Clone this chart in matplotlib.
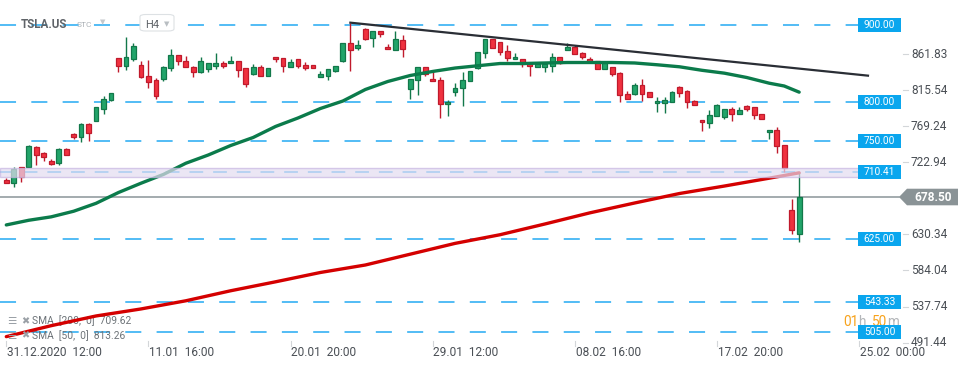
import matplotlib
matplotlib.use("Agg")
import matplotlib.pyplot as plt
from matplotlib.patches import Rectangle, Polygon, FancyBboxPatch
from matplotlib.transforms import blended_transform_factory

plt.rcParams['font.family'] = ['Roboto', 'DejaVu Sans']

W, H = 970, 368

# TSLA.US H4 candles
opens = [700.4, 696.9, 716.7, 717.5, 742.4, 734.7, 724.4, 722.6, 740.6, 759.1,
         756.0, 772.0, 776.6, 792.0, 803.2, 856.8, 847.3, 855.9, 848.2, 834.1,
         828.5, 830.2, 844.7, 860.7, 853.7, 846.0, 838.8, 843.5, 847.3, 850.4,
         850.4, 853.0, 843.9, 837.0, 845.3, 834.5, 858.9, 856.8, 846.0, 855.5,
         848.2, 848.2, 833.2, 834.5, 840.9, 853.7, 876.1, 869.7, 894.5, 882.5,
         891.9, 871.3, 867.9, 880.0, 817.7, 828.5, 845.3, 829.8, 828.5, 797.7,
         813.1, 818.2, 827.2, 844.7, 863.2, 881.3, 877.4, 866.2, 855.5, 855.5,
         850.4, 845.3, 845.3, 846.9, 858.9, 867.1, 871.0, 863.2, 855.5, 853.7,
         842.7, 845.3, 837.5, 810.5, 811.3, 822.1, 813.1, 799.0, 799.7, 801.0,
         819.5, 814.8, 801.9, 777.5, 774.0, 782.3, 781.0, 791.3, 784.8, 795.1,
         793.8, 784.8, 761.7, 764.7, 745.0, 661.4, 630.6]
highs = [703.0, 717.5, 717.0, 745.0, 744.1, 736.4, 727.0, 741.5, 741.0, 761.2,
         773.3, 773.3, 794.6, 808.4, 812.6, 857.0, 883.8, 876.1, 853.0, 854.6,
         831.5, 846.9, 868.4, 861.0, 859.8, 846.3, 858.1, 850.6, 863.2, 853.0,
         859.8, 853.2, 844.1, 849.5, 848.6, 844.1, 859.1, 857.0, 855.5, 855.7,
         852.4, 848.4, 840.5, 843.3, 846.7, 876.3, 902.6, 880.0, 895.4, 892.1,
         892.1, 874.8, 891.9, 886.8, 830.4, 845.5, 846.0, 838.8, 832.8, 802.8,
         824.7, 838.8, 840.7, 864.7, 881.5, 881.5, 877.6, 873.9, 863.2, 855.7,
         850.6, 849.7, 852.1, 864.0, 859.1, 876.9, 874.3, 864.9, 858.9, 853.9,
         850.6, 845.5, 838.8, 815.2, 824.7, 830.2, 813.3, 806.7, 806.7, 814.8,
         821.2, 816.1, 803.2, 777.7, 790.4, 798.1, 791.5, 793.8, 793.8, 796.4,
         794.0, 785.0, 764.9, 768.5, 745.2, 675.6, 711.0]
lows = [696.5, 691.8, 697.8, 717.0, 719.3, 725.2, 719.3, 720.0, 732.5, 752.7,
        749.6, 750.9, 775.8, 785.2, 801.5, 839.6, 841.8, 853.7, 832.0, 818.3,
        804.9, 828.0, 840.9, 848.6, 845.0, 833.2, 838.5, 839.6, 843.5, 844.3,
        850.2, 833.2, 820.3, 835.4, 834.3, 834.3, 852.4, 838.8, 845.8, 844.7,
        841.8, 844.5, 833.0, 829.3, 838.8, 852.4, 840.9, 867.1, 880.3, 871.3,
        884.6, 868.2, 867.1, 858.9, 804.1, 809.6, 834.5, 827.0, 780.5, 783.0,
        808.7, 795.9, 827.0, 843.1, 856.8, 870.2, 861.1, 853.7, 855.3, 845.3,
        834.5, 845.1, 839.6, 839.6, 849.1, 866.9, 861.8, 855.5, 851.2, 842.5,
        842.5, 834.5, 801.0, 804.7, 809.6, 802.3, 806.5, 788.2, 786.1, 800.8,
        807.5, 793.3, 796.2, 763.8, 767.6, 782.1, 779.2, 776.6, 784.6, 789.5,
        779.2, 778.2, 752.7, 735.5, 711.1, 630.6, 621.1]
closes = [696.9, 714.9, 703.9, 744.1, 732.9, 729.6, 720.9, 740.6, 732.9, 756.0,
          772.0, 760.4, 793.8, 804.1, 811.8, 847.3, 858.1, 873.0, 832.4, 826.8,
          808.7, 846.0, 860.7, 853.7, 845.3, 838.8, 853.7, 850.4, 850.4, 847.3,
          853.0, 842.2, 823.4, 846.0, 834.5, 843.9, 855.5, 847.3, 852.4, 847.3,
          844.7, 844.7, 836.7, 843.1, 846.5, 876.1, 867.9, 873.9, 881.6, 891.9,
          887.7, 868.4, 881.6, 868.4, 830.2, 845.3, 836.3, 827.2, 797.7, 801.0,
          819.0, 828.5, 840.5, 864.5, 881.3, 870.4, 864.5, 856.8, 858.5, 849.9,
          847.3, 849.5, 849.1, 858.9, 851.2, 871.0, 862.0, 858.1, 852.4, 842.7,
          850.4, 836.3, 809.3, 804.9, 822.1, 811.3, 806.7, 801.9, 803.2, 813.5,
          812.6, 800.3, 796.4, 774.6, 783.6, 796.4, 791.3, 784.8, 790.0, 792.0,
          783.6, 778.4, 764.7, 744.1, 716.2, 635.7, 678.5]

sma50_x = [0, 3, 6, 9, 12, 15, 18, 21, 24, 27, 30, 33, 36, 39, 42, 45, 48, 51, 54,
           57, 60, 63, 66, 69, 72, 75, 78, 81, 84, 87, 90, 93, 96, 99, 102, 104, 106]
sma50 = [642.6, 648.6, 653.0, 660.2, 670.4, 684.3, 696.2, 707.5, 721.9, 732.5,
         744.7, 755.0, 769.2, 780.1, 792.3, 801.9, 816.7, 827.0, 834.7, 839.9,
         844.3, 847.2, 850.1, 850.1, 850.8, 851.4, 851.4, 851.4, 850.8, 848.5,
         845.9, 841.4, 837.7, 832.1, 824.8, 821.2, 813.3]
sma200_x = [0, 6, 12, 18, 24, 30, 36, 42, 48, 54, 60, 66, 72, 78, 84, 90, 96, 102, 106]
sma200 = [499.0, 513.1, 525.6, 534.6, 545.1, 558.0, 569.5, 581.5, 591.1, 605.0,
          618.9, 630.0, 643.8, 658.1, 670.8, 683.0, 692.6, 702.7, 709.6]

trend_x = [46, 115.2]
trend_y = [902.6, 834.5]

time_ticks = [0, 19, 38, 57, 76, 95, 114]
time_labels = ["31.12.2020  12:00", "11.01  16:00", "20.01  20:00", "29.01  12:00",
               "08.02  16:00", "17.02  20:00", "25.02  00:00"]
levels = [900.00, 800.00, 750.00, 710.41, 625.00, 543.33, 505.00]
price_ticks = [861.83, 815.54, 769.24, 722.94, 630.34, 584.04, 537.74, 491.44]
last_price = 678.50
zone = [703.9, 715.4]


def fx(x):
    # pixel column -> axes fraction
    return x / W


def fy(y):
    return 1 - y / H


fig = plt.figure(figsize=(9.7, 3.68), dpi=100)
fig.patch.set_facecolor('white')
ax = fig.add_axes([0, 0, 1, 1])
ax.axis('off')
ax.set_xlim(-0.842, 128.84)
ax.set_ylim(458.7, 931.75)
ppx = (931.75 - 458.7) / H  # price per pixel

tr = blended_transform_factory(ax.transAxes, ax.transData)
trx = blended_transform_factory(ax.transData, ax.transAxes)

# horizontal levels
for lv in levels:
    dash = (9, 6.5) if lv == 710.41 else (10.5, 10)
    ax.plot([0, fx(858)], [lv, lv], transform=tr, color='#23aaf2', lw=1.1,
            dashes=dash, zorder=2)

ax.plot([0, fx(899)], [last_price, last_price], transform=tr, color='#8a9598',
        lw=1.1, zorder=2)

# candles
xs = list(range(len(opens)))
up = [c >= o for o, c in zip(opens, closes)]
fills = ['#22a46a' if u else '#f0313f' for u in up]
edges = ['#12784a' if u else '#c01a2c' for u in up]
bottoms = [min(o, c) for o, c in zip(opens, closes)]
heights = [max(abs(c - o), 1.2) for o, c in zip(opens, closes)]
ax.vlines(xs, lows, highs, colors=edges, lw=1, zorder=3)
ax.bar(xs, heights, 0.64, bottoms, color=fills, edgecolor=edges, lw=0.9, zorder=4)

# moving averages and trend line
ax.plot(sma200_x, sma200, color='#d40000', lw=2.4, solid_capstyle='round', zorder=5)
ax.plot(sma50_x, sma50, color='#0b7b4b', lw=2.4, solid_capstyle='round', zorder=5)
ax.plot(trend_x, trend_y, color='#2a2e35', lw=1.6, zorder=5)

# zone band
ax.add_patch(Rectangle((0, zone[0]), fx(860), zone[1] - zone[0], transform=tr,
                       fc='#e3dcf0', ec='#c6b6e2', lw=1, alpha=0.7, zorder=6))

# countdown (under the 505 box)
cy = fy(321.5)
for txt, x0, col in [("01", 843, '#f7a21b'), ("h", 858.5, '#b3b6b9'),
                     ("50", 872, '#f7a21b'), ("m", 887.5, '#b3b6b9')]:
    ax.text(fx(x0), cy, txt, transform=ax.transAxes, color=col, fontsize=9.8,
            ha='left', va='center', zorder=7)

# level boxes
for lv in levels:
    ax.add_patch(Rectangle((fx(858), lv - 7 * ppx), fx(43), 14 * ppx, transform=tr,
                           fc='#0aa6ee', ec='none', zorder=8))
    ax.text(fx(879.5), lv, f"{lv:.2f}", transform=tr, color='white', fontsize=7.3,
            ha='center', va='center', zorder=9)

# right price scale
for v in price_ticks:
    ax.plot([fx(903), fx(908)], [v, v], transform=tr, color='#d3d6d9', lw=0.8)
    ax.text(fx(911), v, f"{v:.2f}", transform=tr, color='#4a4f55', fontsize=8.5,
            ha='left', va='center')

hh = 8.3 * ppx
ax.add_patch(Polygon([(fx(899), last_price), (fx(907), last_price + hh),
                      (fx(958), last_price + hh), (fx(958), last_price - hh),
                      (fx(907), last_price - hh)], closed=True, transform=tr,
                     fc='#8a9396', ec='none', zorder=8))
ax.text(fx(933), last_price, f"{last_price:.2f}", transform=tr, color='white',
        fontsize=8.6, fontweight='bold', ha='center', va='center', zorder=9)

# time axis
for t, lab in zip(time_ticks, time_labels):
    ax.plot([t, t], [fy(346), fy(341)], transform=trx, color='#d3d6d9', lw=0.8)
    ax.text(t + 0.1, fy(352.5), lab, transform=trx, color='#4a4f55', fontsize=8.6,
            ha='left', va='center')

# header
ax.text(fx(21), fy(24.5), "TSLA.US", transform=ax.transAxes, color='#5f6368',
        fontsize=8.4, fontweight='bold', ha='left', va='center', zorder=9)
ax.text(fx(77), fy(25), "STC", transform=ax.transAxes, color='#aab0b5',
        fontsize=6, ha='left', va='center', zorder=9)
ax.text(fx(103), fy(22), "▼", transform=ax.transAxes, color='#c4c8cc',
        fontsize=5, ha='center', va='center', family=['DejaVu Sans'], zorder=9)
ax.add_patch(FancyBboxPatch((fx(140), fy(31)), fx(34), 16.5 / H,
                            boxstyle='round,pad=0,rounding_size=0.006',
                            transform=ax.transAxes, fc='white', ec='#dde1e4',
                            lw=0.8, zorder=8))
ax.text(fx(145), fy(24.5), "H4", transform=ax.transAxes, color='#5f6368',
        fontsize=8, ha='left', va='center', zorder=9)
ax.text(fx(167), fy(24), "▼", transform=ax.transAxes, color='#b9bec2',
        fontsize=5, ha='center', va='center', family=['DejaVu Sans'], zorder=9)

# indicator legend
for row, lab in [(321, "SMA  [200,  0]  709.62"), (335.7, "SMA  [50,  0]  813.26")]:
    ax.text(fx(7), fy(row), "☰", transform=ax.transAxes, color='#9aa0a6',
            fontsize=7.5, ha='left', va='center', family=['DejaVu Sans'], zorder=7)
    ax.text(fx(21), fy(row), "✖", transform=ax.transAxes, color='#9aa0a6',
            fontsize=7, ha='left', va='center', family=['DejaVu Sans'], zorder=7)
    ax.text(fx(32), fy(row), lab, transform=ax.transAxes, color='#6d7378',
            fontsize=7.4, ha='left', va='center', zorder=4)

fig.savefig('out.png', dpi=100)
